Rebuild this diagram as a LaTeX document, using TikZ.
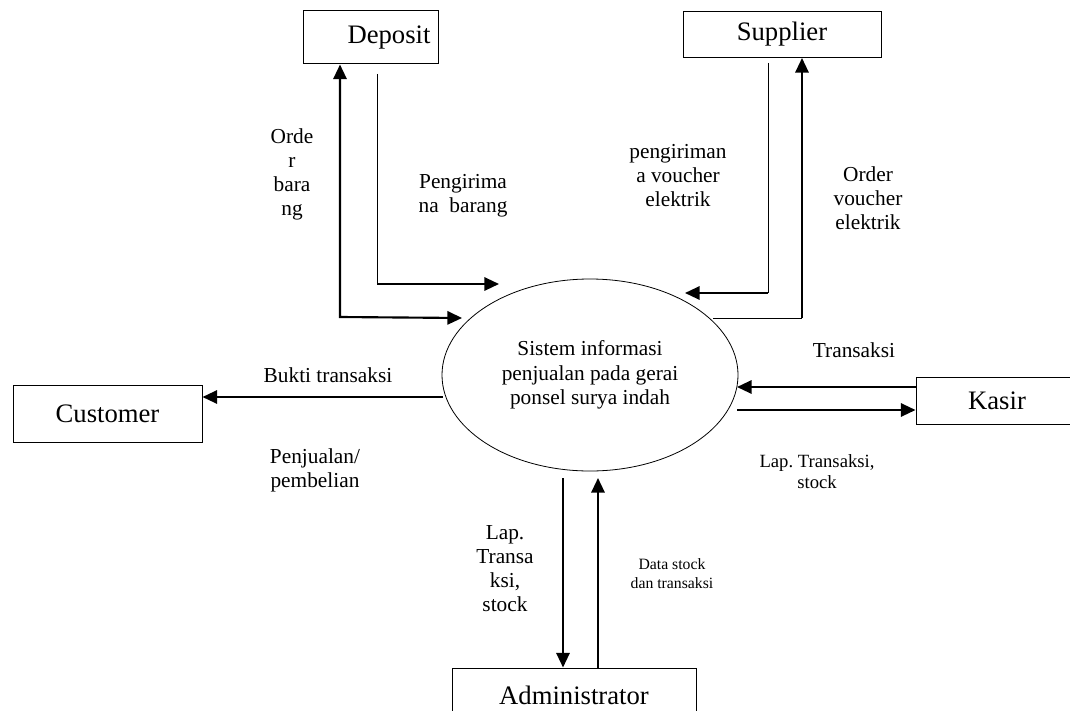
\documentclass[tikz,border=0pt]{standalone}
\usepackage{fontspec}
\setmainfont{Liberation Serif}
\frenchspacing
\usetikzlibrary{arrows.meta,shapes.geometric}
\tikzset{
  entity/.style={draw, line width=0.75pt, inner sep=0pt, font=\fontsize{20}{24}\selectfont},
  procnode/.style={draw, ellipse, line width=0.6pt, inner sep=0pt, minimum width=222pt, minimum height=144pt, align=center, font=\fontsize{16}{18.4}\selectfont},
  flowline/.style={line width=1.6pt},
  thinline/.style={line width=0.75pt},
  lbl/.style={align=center, font=\fontsize{16}{18}\selectfont},
  lblsmall/.style={align=center, font=\fontsize{14}{15.75}\selectfont},
  lbltiny/.style={align=center, font=\fontsize{11.8}{14.25}\selectfont}
}
\begin{document}
\begin{tikzpicture}[x=0.75pt,y=-0.75pt,>={Triangle[length=11pt,width=10pt]}]
  \useasboundingbox (0,0) rectangle (1070,710);
  \clip (0,0) rectangle (1070,710);
  % entities and process
  \node[entity, minimum width=101.25pt, minimum height=39.75pt] (deposit) at (370.5,37.5) {\hspace*{27.75pt}Deposit};
  \node[entity, minimum width=148.5pt, minimum height=34.5pt] (supplier) at (782,34.5) {Supplier};
  \node[entity, minimum width=141.75pt, minimum height=42.75pt] (customer) at (107.5,413.5) {Customer};
  \node[entity, minimum width=121.5pt, minimum height=35.25pt] (kasir) at (997,400.5) {Kasir};
  \node[entity, minimum width=183pt, minimum height=40.5pt] (admin) at (574,695) {Administrator};
  \node[procnode] (sistem) at (590,375) {Sistem informasi\\penjualan pada gerai\\ponsel surya indah};
  % free ends near the process
  \coordinate (ordbar) at (340,317);
  \coordinate (ordbarE) at (462,318);
  \coordinate (kirbarS) at (377,74);
  \coordinate (kirbar) at (377,284);
  \coordinate (kirbarE) at (499,284);
  \coordinate (kirvouS) at (768,63);
  \coordinate (kirvou) at (768,293);
  \coordinate (kirvouE) at (685,293);
  \coordinate (ordvouS) at (713,318);
  \coordinate (ordvou) at (802,318);
  \coordinate (bukti) at (443,397);
  \coordinate (kasirIn) at (737,387);
  \coordinate (kasirOut) at (737,410);
  \coordinate (adminOut) at (563,478);
  \coordinate (adminIn) at (598,478);
  % flows
  \draw[flowline, <->] (deposit.south -| ordbar) -- (ordbar) -- (ordbarE);
  \draw[thinline] (kirbarS) -- (kirbar);
  \draw[flowline, ->] (kirbar) -- (kirbarE);
  \draw[thinline] (kirvouS) -- (kirvou);
  \draw[flowline, ->] (kirvou) -- (kirvouE);
  \draw[thinline] (ordvouS) -- (ordvou);
  \draw[flowline, ->] (ordvou) -- (supplier.south -| ordvou);
  \draw[flowline, ->] (bukti) -- (customer.east |- bukti);
  \draw[flowline, ->] (kasir.west |- kasirIn) -- (kasirIn);
  \draw[flowline, ->] (kasirOut) -- (kasir.west |- kasirOut);
  \draw[flowline, ->] (adminOut) -- (admin.north -| adminOut);
  \draw[flowline, ->] (admin.north -| adminIn) -- (adminIn);
  % labels
  \node[lbl] (lordbar) at (292,174) {Orde\\r\\bara\\ng};
  \node[lbl] (lkirbar) at (463,196) {Pengirima\\na\ \ barang};
  \node[lbl] (lkirvou) at (678,176) {pengiriman\\a voucher\\elektrik};
  \node[lbl] (lordvou) at (868,198) {Order\\voucher\\elektrik};
  \node[lbl] (lbukti) at (328,375) {Bukti transaksi};
  \node[lbl] (ljual) at (315,470) {Penjualan/\\pembelian};
  \node[lbl] (ltrans) at (854,350) {Transaksi};
  \node[lblsmall] (llapkasir) at (817,472) {Lap. Transaksi,\\stock};
  \node[lbl] (llapadmin) at (505,569) {Lap.\\Transa\\ksi,\\stock};
  \node[lbltiny] (ldata) at (672,574) {Data stock\\dan transaksi};
\end{tikzpicture}
\end{document}
